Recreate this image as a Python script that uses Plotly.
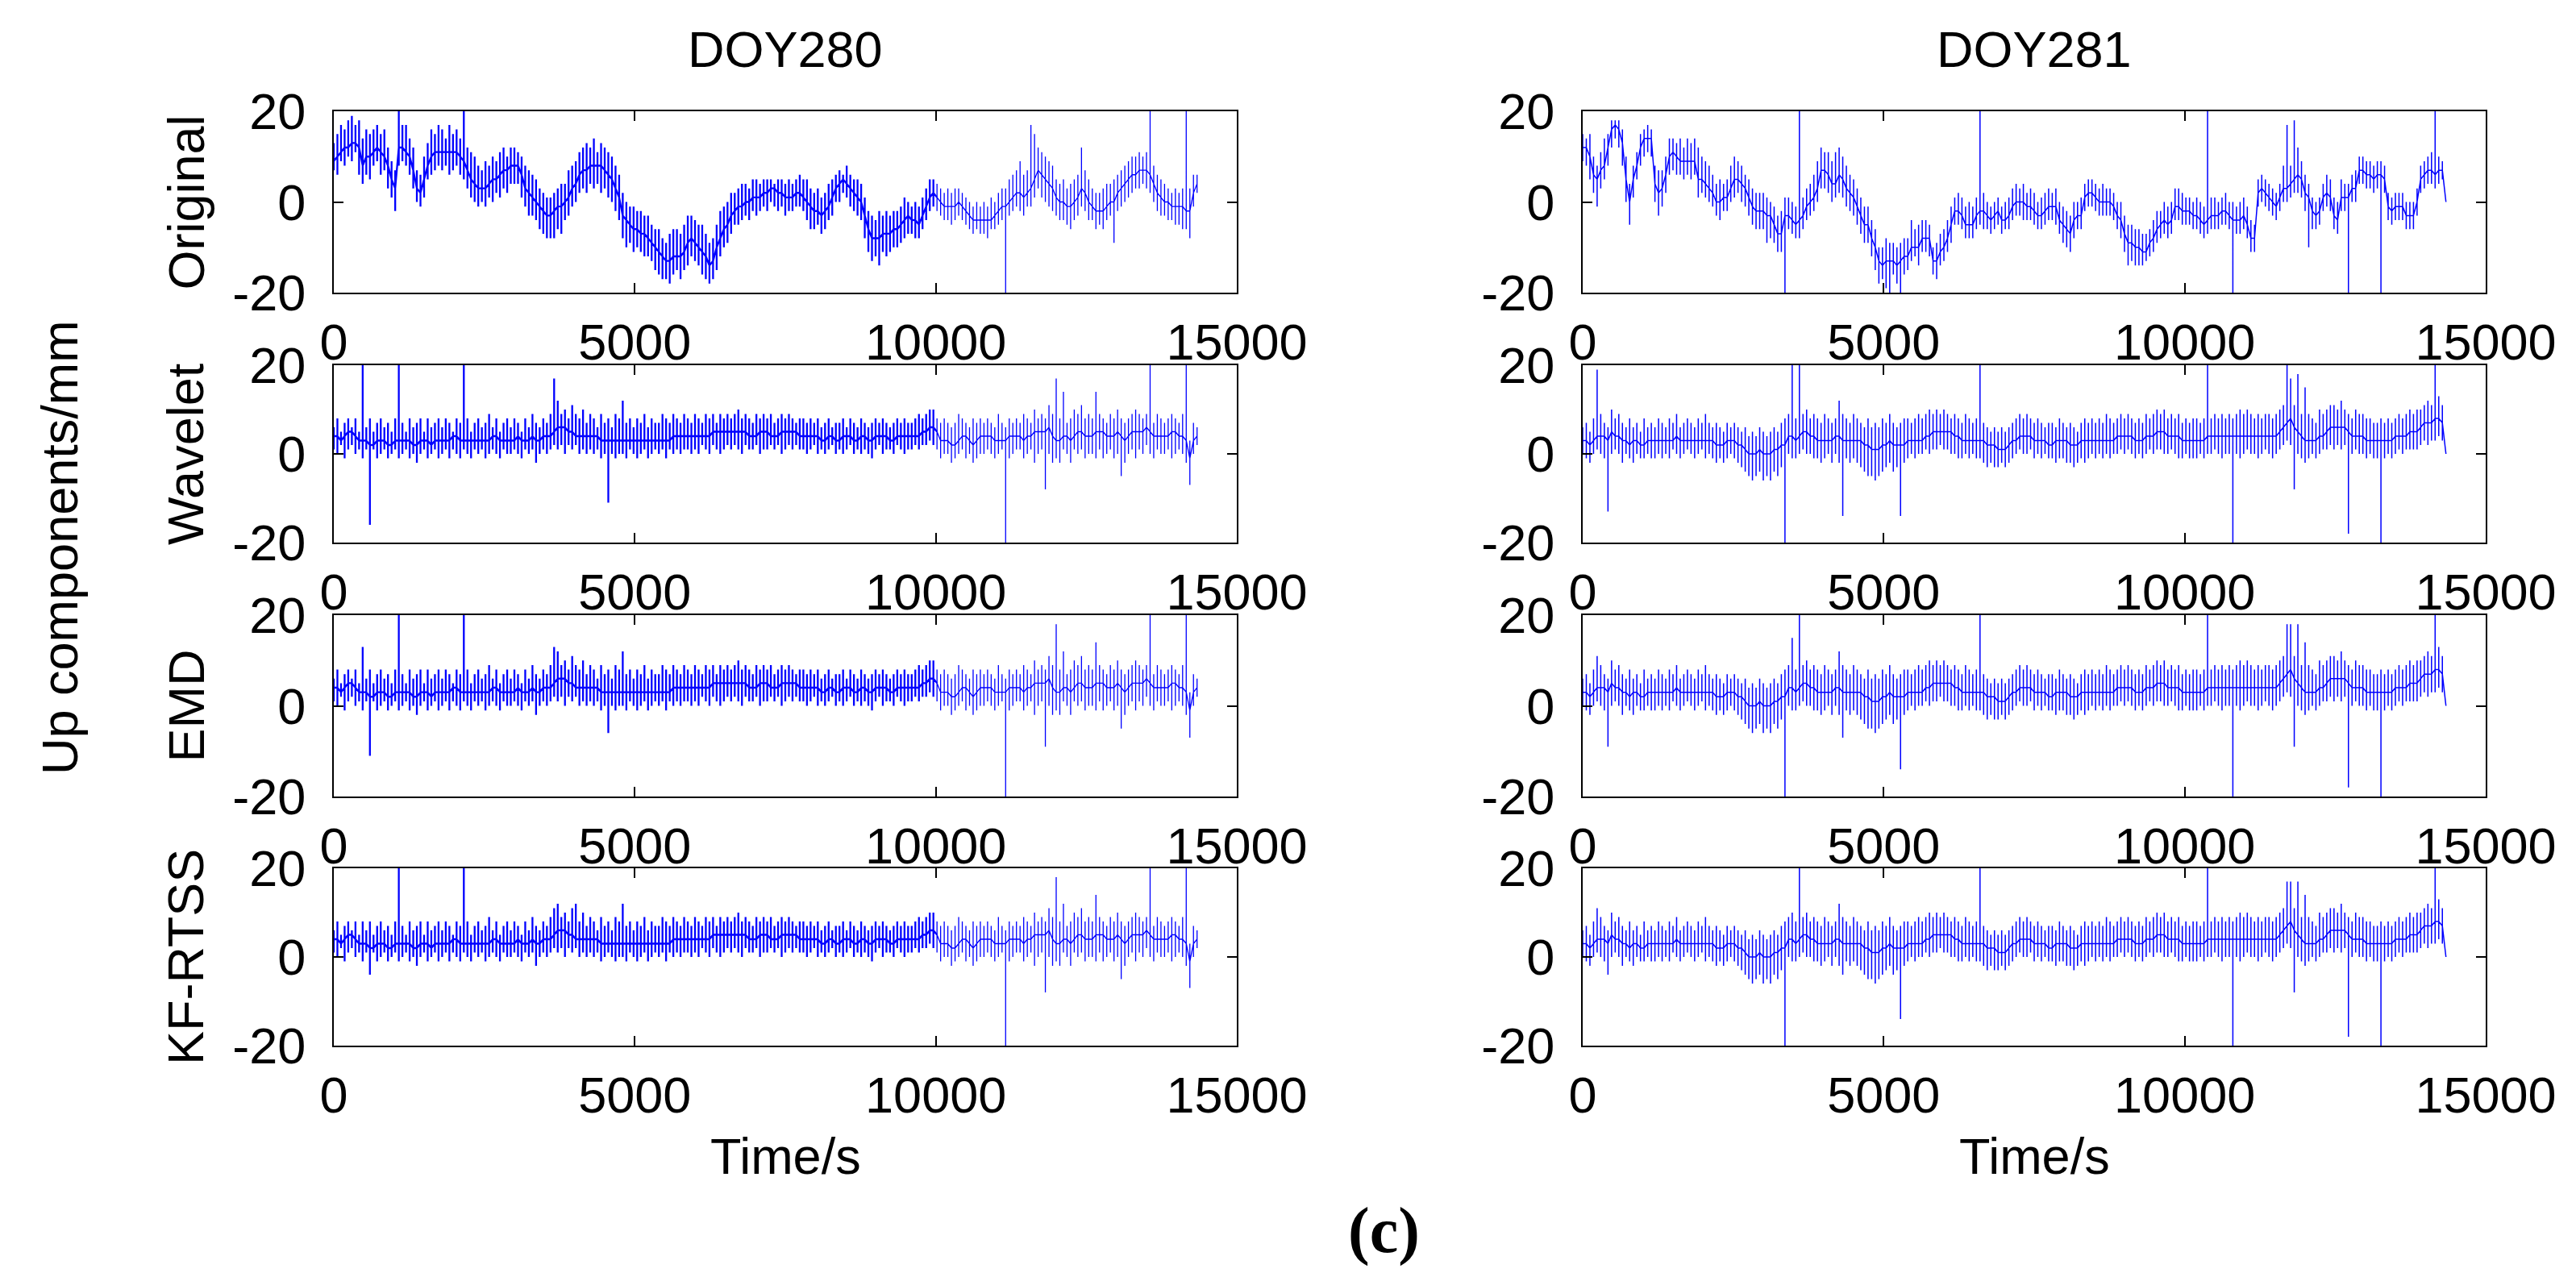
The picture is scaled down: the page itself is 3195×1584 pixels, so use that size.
import plotly.graph_objects as go

# ---------------- data (mm, one reading every 60 s) ----------------
# Each panel: a slowly varying level (base), the high and low extremes reached
# around each reading (drawn as a vertical stroke), and a few isolated outliers.
time_s = list(range(0, 14400, 60))

# ===== DOY280 Original =====
orig_280_base = [
    9, 10, 11, 12, 12, 13, 13, 12, 8, 10,
    10, 11, 12, 11, 10, 8, 5, 3, 12, 12,
    11, 10, 7, 3, 2, 5, 8, 10, 11, 11,
    11, 11, 11, 11, 11, 10, 9, 7, 5, 4,
    3, 3, 3, 4, 5, 5, 6, 7, 7, 8,
    8, 8, 6, 3, 2, 1, 0, -1, -2, -3,
    -3, -2, -1, -1, 0, 1, 3, 4, 6, 7,
    7, 8, 8, 8, 8, 7, 6, 5, 3, 1,
    -3, -4, -5, -6, -6, -7, -7, -8, -9, -10,
    -11, -12, -13, -13, -12, -12, -12, -11, -9, -8,
    -9, -10, -11, -12, -14, -13, -10, -8, -6, -5,
    -3, -2, -1, -1, 0, 0, 1, 1, 1, 2,
    2, 3, 3, 2, 2, 1, 1, 1, 2, 2,
    1, 0, -1, -2, -2, -3, -2, -1, 1, 3,
    4, 5, 4, 3, 2, 1, 0, -3, -6, -8,
    -8, -8, -7, -7, -7, -6, -6, -5, -4, -3,
    -4, -4, -5, -3, -1, 1, 2, 1, 0, -1,
    -1, -1, -1, 0, -1, -2, -3, -4, -4, -4,
    -4, -4, -4, -3, -2, -1, -1, 0, 1, 2,
    2, 1, 2, 3, 5, 7, 6, 5, 4, 3,
    1, 0, 0, -1, -1, 0, 1, 3, 2, 0,
    -1, -2, -2, -2, -1, 0, 0, 2, 3, 4,
    5, 6, 6, 7, 7, 7, 6, 4, 2, 1,
    0, 0, -1, -1, -1, -1, -2, -2, 2, 4,
]
orig_280_hi = [
    13, 15, 17, 16, 18, 19, 17, 18, 14, 16,
    15, 16, 17, 15, 16, 12, 9, 7, 16, 17,
    17, 14, 12, 7, 6, 10, 13, 16, 15, 17,
    16, 14, 17, 15, 16, 14, 15, 12, 11, 10,
    8, 7, 9, 8, 10, 9, 11, 12, 10, 12,
    12, 11, 10, 8, 7, 6, 5, 3, 2, 1,
    1, 2, 3, 4, 4, 7, 8, 9, 11, 12,
    13, 12, 14, 11, 13, 12, 11, 10, 8, 6,
    2, 0, -1, -1, -2, -2, -3, -3, -5, -6,
    -6, -8, -9, -7, -6, -6, -7, -5, -3, -3,
    -4, -5, -5, -7, -9, -8, -5, -2, -1, 0,
    2, 2, 3, 4, 4, 3, 5, 5, 4, 5,
    5, 5, 4, 5, 5, 4, 5, 4, 5, 6,
    5, 5, 3, 2, 3, 1, 2, 4, 5, 6,
    7, 6, 8, 6, 5, 5, 4, 1, -2, -3,
    -4, -2, -3, -2, -3, -2, -2, -1, 1, 0,
    -1, 0, -1, 1, 3, 5, 5, 4, 3, 2,
    3, 2, 3, 3, 2, 1, 0, -1, 0, -1,
    0, -1, 1, 0, 2, 3, 3, 5, 6, 7,
    9, 6, 7, 8, 10, 12, 11, 10, 9, 8,
    5, 4, 5, 3, 4, 5, 6, 9, 7, 5,
    3, 2, 2, 3, 4, 4, 5, 6, 7, 8,
    9, 10, 10, 11, 10, 11, 9, 8, 6, 5,
    4, 3, 2, 3, 2, 3, 1, 3, 6, 6,
]
orig_280_lo = [
    7, 6, 9, 8, 10, 9, 11, 6, 4, 6,
    5, 8, 9, 6, 7, 3, 1, -2, 8, 9,
    8, 6, 3, 0, -1, 1, 5, 6, 7, 8,
    7, 8, 6, 7, 8, 6, 5, 3, 1, 0,
    -1, 0, -1, 1, 0, 2, 1, 3, 2, 4,
    4, 4, 1, -1, -3, -3, -4, -6, -7, -8,
    -8, -8, -6, -7, -4, -3, -1, 0, 2, 3,
    2, 4, 3, 4, 2, 3, 1, 0, -2, -4,
    -8, -10, -9, -11, -10, -11, -12, -12, -13, -15,
    -16, -17, -17, -18, -16, -15, -17, -15, -14, -12,
    -13, -14, -16, -17, -18, -17, -15, -12, -10, -9,
    -7, -5, -5, -4, -3, -4, -2, -3, -2, -1,
    -2, 0, -1, -2, -1, -3, -2, -2, -1, -1,
    -2, -4, -6, -6, -5, -7, -6, -4, -3, 0,
    0, 2, 1, -1, -2, -3, -4, -8, -11, -13,
    -12, -14, -11, -12, -11, -10, -10, -9, -8, -7,
    -7, -8, -8, -6, -4, -2, -1, -2, -3, -4,
    -4, -5, -4, -3, -4, -5, -6, -7, -6, -7,
    -7, -8, -6, -6, -5, -4, -5, -3, -2, -1,
    -2, -3, -1, -1, 1, 3, 1, 0, -1, -2,
    -3, -4, -4, -5, -6, -4, -3, -1, -2, -4,
    -4, -6, -5, -6, -4, -3, -5, -2, -1, 0,
    1, 2, 3, 3, 4, 3, 2, 0, -2, -3,
    -3, -4, -4, -5, -5, -6, -6, -7, -1, 2,
]
orig_280_outliers = [(1080, 20), (2160, 20), (5580, -17), (6240, -18), (11160, -22),
                     (11580, 17), (11640, 15), (12420, 12), (12960, -9), (13560, 20),
                     (14160, 20), (14220, -8)]

# ===== DOY280 filtered series (Wavelet / EMD / KF-RTSS share the same band) =====
resid_280_base = [
    4, 4, 3, 4, 5, 5, 4, 3, 3, 3,
    2, 2, 3, 3, 3, 2, 2, 3, 3, 3,
    3, 3, 2, 2, 3, 3, 3, 2, 3, 3,
    3, 3, 3, 4, 4, 3, 3, 3, 3, 3,
    3, 3, 3, 3, 4, 4, 3, 3, 3, 3,
    3, 4, 3, 3, 3, 4, 3, 3, 4, 4,
    4, 5, 6, 6, 6, 5, 5, 4, 4, 4,
    4, 4, 4, 4, 3, 3, 3, 3, 3, 3,
    3, 3, 3, 3, 3, 3, 3, 3, 3, 3,
    3, 3, 3, 3, 4, 4, 4, 4, 4, 4,
    4, 4, 4, 4, 4, 5, 5, 5, 5, 5,
    5, 5, 5, 5, 5, 4, 4, 4, 5, 5,
    5, 4, 4, 4, 5, 5, 5, 5, 5, 4,
    4, 4, 4, 4, 4, 3, 3, 4, 4, 3,
    3, 4, 4, 4, 3, 3, 4, 4, 3, 3,
    4, 4, 4, 4, 3, 3, 4, 4, 4, 4,
    4, 4, 4, 5, 5, 6, 6, 5, 3, 3,
    3, 2, 2, 3, 4, 4, 3, 2, 3, 4,
    4, 4, 4, 3, 3, 3, 3, 4, 4, 4,
    4, 3, 4, 4, 5, 5, 5, 5, 6, 4,
    3, 3, 4, 4, 3, 4, 5, 5, 4, 4,
    4, 5, 5, 5, 4, 4, 4, 5, 4, 3,
    4, 5, 5, 5, 5, 6, 5, 4, 4, 4,
    4, 4, 5, 5, 4, 4, 3, -1, 3, 4,
]
resid_280_hi = [
    6, 8, 5, 7, 8, 6, 8, 5, 7, 6,
    8, 5, 7, 8, 6, 7, 5, 8, 6, 7,
    5, 8, 6, 7, 8, 5, 8, 6, 7, 8,
    6, 8, 7, 5, 8, 7, 6, 8, 5, 7,
    8, 6, 7, 9, 6, 8, 5, 7, 8, 6,
    8, 7, 5, 8, 6, 9, 7, 6, 8, 7,
    9, 11, 12, 9, 10, 8, 11, 9, 8, 10,
    7, 9, 8, 6, 9, 7, 8, 6, 9, 8,
    12, 7, 8, 6, 8, 7, 9, 6, 8, 7,
    7, 9, 8, 7, 9, 8, 7, 9, 8, 7,
    9, 8, 7, 9, 8, 9, 7, 9, 8, 9,
    8, 9, 10, 8, 9, 8, 7, 9, 8, 9,
    8, 9, 7, 8, 9, 8, 9, 8, 7, 8,
    8, 7, 8, 7, 8, 6, 7, 8, 6, 7,
    7, 8, 6, 8, 7, 6, 8, 7, 6, 7,
    8, 7, 8, 7, 6, 7, 8, 7, 8, 7,
    7, 8, 9, 8, 9, 10, 10, 8, 7, 8,
    7, 6, 7, 9, 8, 7, 6, 8, 7, 8,
    7, 8, 7, 6, 9, 7, 6, 8, 7, 8,
    7, 9, 8, 7, 10, 8, 9, 8, 11, 9,
    10, 8, 9, 7, 8, 10, 9, 11, 8, 9,
    8, 10, 9, 8, 7, 9, 8, 10, 8, 7,
    8, 9, 10, 9, 8, 9, 8, 7, 9, 8,
    7, 8, 9, 8, 7, 9, 6, 3, 7, 6,
]
resid_280_lo = [
    1, 0, 2, -1, 1, 2, 0, 1, -1, 1,
    0, 1, -1, 0, 1, -1, 0, 1, -1, 0,
    1, -1, 0, -2, 0, 1, -1, 0, 1, -1,
    0, 1, -1, 1, 0, -1, 1, 0, -1, 1,
    0, 1, -1, 0, 1, 0, -1, 1, 0, 0,
    1, 0, -1, 1, 0, 1, -2, 0, 1, 0,
    1, 2, 1, 2, 0, 2, 1, 2, 0, 1,
    0, 1, 0, 1, -1, 0, 1, 0, -1, 0,
    0, -1, 1, 0, -1, 0, 1, -1, 0, 1,
    0, 1, -1, 1, 0, 1, 0, 1, 1, 0,
    1, 0, 2, 1, 0, 2, 1, 0, 1, 2,
    1, 2, 1, 0, 2, 1, 1, 2, 0, 1,
    1, 2, 1, 2, 0, 1, 2, 1, 2, 1,
    1, 0, 1, 2, 0, 1, 0, 1, 2, 0,
    1, 0, 1, 2, 0, 1, 0, 1, 0, -1,
    1, 2, 0, 1, 1, 0, 2, 1, 0, 1,
    1, 2, 1, 2, 2, 3, 2, 1, -1, 0,
    0, -2, -1, 0, 1, -1, 0, -2, -1, 0,
    0, 1, 0, -1, 0, 1, 0, -1, 0, 1,
    1, -1, 0, 1, -2, 0, 1, -1, 0, -2,
    -1, -2, 1, 0, -2, 1, 0, 1, -1, 0,
    0, -1, 1, -1, 0, 1, -1, 0, 1, -2,
    0, 1, -1, 1, 0, 2, 0, -1, 1, 0,
    0, 1, -1, 0, 1, 0, -2, -4, 0, 2,
]
wavelet_280_outliers = [(480, 20), (600, -16), (1080, 20), (2160, 20), (3660, 17), (4560, -11),
                        (4800, 12), (11160, -21), (11820, -8), (12000, 17), (12120, 14),
                        (12660, 14), (13080, -5), (13560, 20), (14160, 20), (14220, -7)]
emd_280_outliers = [(480, 13), (600, -11), (1080, 20), (2160, 20), (3660, 13), (4560, -6),
                    (4800, 11), (11160, -21), (11820, -9), (12000, 18), (12120, 12),
                    (12660, 14), (13080, -5), (13560, 20), (14160, 20), (14220, -7)]
kfrtss_280_outliers = [(480, 8), (600, -4), (1080, 20), (2160, 20), (4020, 12), (4800, 12),
                       (11160, -21), (11820, -8), (12000, 18), (12120, 12), (12660, 14),
                       (13080, -5), (13560, 20), (14160, 20), (14220, -7)]

# ===== DOY281 Original =====
orig_281_base = [
    12, 12, 10, 6, 5, 7, 8, 12, 16, 17,
    16, 13, 5, 0, 5, 8, 12, 14, 14, 14,
    4, 2, 3, 6, 10, 11, 10, 9, 9, 9,
    9, 9, 5, 5, 4, 3, 2, 0, 0, 1,
    1, 3, 5, 5, 4, 3, 1, -1, -2, -2,
    -2, -3, -3, -5, -7, -7, -3, -3, -4, -5,
    -4, -3, -1, 0, 1, 3, 7, 7, 6, 4,
    4, 6, 5, 3, 2, 1, -1, -3, -5, -5,
    -8, -10, -13, -14, -13, -13, -13, -14, -13, -12,
    -12, -10, -10, -10, -8, -8, -8, -13, -13, -11,
    -10, -8, -5, -2, -2, -3, -5, -5, -5, -3,
    -2, -2, -3, -4, -3, -2, -4, -4, -3, -1,
    0, 0, 0, -1, -1, -2, -3, -3, -2, -1,
    -1, -1, -4, -5, -6, -7, -4, -3, -3, 1,
    2, 2, 1, 0, 0, 0, 0, -1, -3, -4,
    -7, -9, -9, -10, -10, -11, -11, -9, -8, -6,
    -5, -4, -5, -4, -1, -1, -2, -2, -2, -3,
    -3, -4, -5, -4, -3, -3, -3, -2, -2, -3,
    -4, -4, -4, -3, -5, -8, -8, 2, 3, 2,
    1, 0, -1, 1, 3, 3, 4, 5, 6, 5,
    2, 1, -2, -3, -2, 1, 2, 1, -3, -4,
    1, 1, 1, 3, 3, 7, 7, 6, 6, 5,
    6, 6, 5, -1, -2, -1, -1, -1, -3, -3,
    -3, 0, 5, 6, 7, 7, 6, 7, 7, 0,
]
orig_281_hi = [
    15, 14, 15, 10, 8, 11, 14, 15, 18, 18,
    18, 16, 10, 4, 8, 11, 15, 16, 17, 16,
    8, 7, 7, 10, 14, 14, 13, 14, 12, 14,
    13, 14, 12, 10, 9, 8, 6, 4, 5, 4,
    5, 8, 10, 9, 8, 6, 5, 3, 2, 2,
    2, 1, 0, -1, -3, -2, 1, 1, 0, -1,
    0, 1, 3, 4, 6, 9, 12, 11, 11, 9,
    11, 12, 10, 8, 6, 5, 3, 1, -1, -1,
    -4, -6, -10, -10, -8, -9, -9, -10, -9, -8,
    -8, -4, -6, -5, -4, -4, -5, -10, -9, -7,
    -6, -4, -1, 1, 2, 1, -1, 0, -1, 1,
    1, 2, 0, -1, 0, 1, -1, 0, 1, 3,
    4, 3, 4, 2, 3, 2, 0, 1, 2, 3,
    2, 3, 0, -1, -2, -3, 0, 0, 1, 4,
    5, 5, 4, 3, 4, 3, 3, 2, 0, 0,
    -3, -5, -5, -6, -6, -7, -7, -6, -4, -2,
    -2, 0, -1, 0, 3, 3, 2, 1, 1, 0,
    1, 0, -1, 0, 1, 1, 0, 1, 2, 0,
    0, -1, 0, 1, -1, -4, -5, 5, 6, 5,
    4, 3, 2, 4, 8, 6, 8, 9, 12, 9,
    6, 4, 1, 0, 1, 4, 6, 5, 1, 0,
    5, 4, 4, 6, 7, 10, 10, 9, 9, 8,
    9, 9, 8, 2, 1, 2, 2, 2, 0, 0,
    0, 3, 8, 9, 10, 11, 10, 10, 9, 0,
]
orig_281_lo = [
    9, 8, 5, 2, -1, 3, 5, 8, 12, 14,
    12, 8, 0, -5, 1, 5, 8, 10, 11, 10,
    0, -3, -1, 2, 6, 7, 6, 6, 5, 6,
    5, 6, 1, 2, 1, 0, -1, -3, -4, -2,
    -2, 0, 1, 2, 0, -1, -3, -5, -6, -6,
    -6, -9, -8, -9, -11, -11, -7, -6, -7, -8,
    -8, -6, -4, -3, -2, 0, 3, 3, 2, 0,
    1, 2, 1, -1, -2, -3, -5, -7, -9, -9,
    -12, -15, -18, -17, -19, -20, -16, -18, -17, -16,
    -15, -13, -12, -14, -11, -11, -12, -16, -17, -14,
    -13, -11, -9, -5, -5, -6, -8, -8, -8, -6,
    -5, -6, -6, -7, -6, -5, -7, -6, -6, -4,
    -3, -3, -4, -4, -4, -5, -6, -6, -5, -4,
    -4, -5, -7, -9, -10, -11, -8, -6, -6, -2,
    -1, -1, -2, -3, -3, -3, -3, -4, -6, -8,
    -11, -14, -13, -14, -14, -14, -13, -12, -11, -9,
    -8, -7, -8, -7, -4, -4, -5, -5, -5, -6,
    -6, -7, -8, -7, -6, -6, -6, -5, -5, -6,
    -7, -7, -7, -6, -8, -11, -11, -1, 0, -1,
    -2, -3, -4, -2, 0, 0, 1, 2, 2, 1,
    -2, -4, -6, -6, -5, -2, -1, -2, -6, -7,
    -2, -2, -2, 0, 0, 4, 4, 3, 3, 2,
    3, 3, 2, -4, -5, -4, -4, -4, -6, -6,
    -6, -3, 2, 3, 4, 4, 3, 4, 5, 0,
]
orig_281_outliers = [(3360, -21), (3600, 20), (5280, -21), (6600, 20), (10380, 20), (10800, -21),
                     (11700, 17), (11820, 18), (12060, -10), (12720, -21), (13260, -21),
                     (14160, 20)]

# ===== DOY281 filtered series (Wavelet / EMD / KF-RTSS share the same band) =====
resid_281_base = [
    3, 3, 2, 3, 4, 4, 4, 3, 5, 4,
    4, 3, 3, 2, 3, 3, 2, 2, 3, 3,
    3, 3, 3, 3, 3, 3, 4, 3, 3, 3,
    3, 3, 3, 3, 3, 3, 3, 2, 2, 2,
    3, 3, 3, 2, 2, 1, 0, 0, 0, 1,
    0, 0, 0, 1, 1, 2, 2, 4, 4, 3,
    4, 5, 5, 4, 4, 3, 3, 3, 3, 3,
    4, 4, 3, 3, 3, 3, 3, 3, 2, 2,
    1, 1, 1, 2, 2, 3, 2, 2, 2, 2,
    3, 3, 3, 3, 3, 4, 4, 5, 5, 5,
    5, 5, 5, 4, 4, 3, 3, 3, 3, 3,
    3, 3, 2, 2, 2, 1, 1, 1, 2, 3,
    3, 4, 4, 4, 4, 3, 3, 3, 3, 2,
    2, 3, 3, 3, 3, 2, 2, 2, 3, 3,
    3, 3, 3, 3, 3, 3, 3, 3, 4, 4,
    4, 4, 4, 3, 3, 3, 4, 4, 4, 5,
    5, 5, 4, 4, 4, 4, 3, 3, 3, 3,
    3, 3, 3, 4, 4, 4, 4, 4, 4, 4,
    4, 4, 4, 4, 4, 4, 4, 4, 4, 4,
    4, 4, 4, 5, 6, 7, 8, 6, 5, 4,
    3, 3, 3, 3, 4, 4, 5, 6, 6, 6,
    6, 6, 5, 4, 4, 4, 4, 3, 3, 3,
    3, 3, 3, 3, 3, 4, 4, 4, 4, 5,
    5, 5, 6, 7, 7, 7, 8, 8, 7, 0,
]
resid_281_hi = [
    6, 7, 5, 8, 6, 9, 7, 6, 10, 8,
    9, 7, 6, 8, 6, 7, 5, 8, 6, 7,
    6, 8, 7, 6, 8, 7, 9, 6, 7, 8,
    7, 6, 8, 7, 9, 7, 6, 7, 6, 5,
    7, 6, 7, 6, 5, 6, 4, 5, 4, 6,
    5, 4, 5, 6, 5, 7, 8, 9, 10, 8,
    9, 9, 10, 8, 9, 8, 7, 9, 8, 7,
    8, 12, 9, 8, 7, 9, 8, 7, 6, 8,
    6, 7, 6, 8, 7, 9, 7, 6, 7, 8,
    8, 7, 8, 9, 8, 9, 10, 9, 10, 9,
    10, 9, 8, 9, 8, 7, 9, 8, 7, 8,
    8, 7, 6, 5, 6, 5, 6, 5, 6, 7,
    8, 9, 8, 9, 8, 7, 8, 7, 6, 7,
    7, 6, 8, 7, 6, 7, 6, 5, 7, 8,
    7, 8, 7, 8, 7, 9, 8, 7, 8, 9,
    8, 9, 8, 7, 8, 7, 9, 8, 9, 10,
    9, 10, 8, 9, 8, 9, 7, 8, 7, 8,
    8, 7, 8, 9, 8, 9, 8, 9, 8, 9,
    8, 9, 10, 9, 10, 9, 8, 9, 8, 9,
    9, 8, 9, 10, 11, 12, 13, 11, 10, 9,
    8, 9, 8, 7, 10, 9, 10, 11, 11, 10,
    12, 10, 9, 8, 10, 9, 9, 8, 8, 7,
    7, 8, 7, 8, 7, 8, 9, 8, 9, 10,
    9, 10, 10, 11, 12, 11, 12, 13, 11, 0,
]
resid_281_lo = [
    0, -1, -2, 0, 1, 0, -1, 1, 0, 1,
    0, -2, 0, -1, -2, 0, -1, -1, 0, -1,
    -1, 0, -1, 0, -1, 1, 0, -1, 0, 1,
    0, -1, 0, 1, -1, 0, -1, -2, -1, -2,
    -1, 0, -1, -2, -3, -4, -5, -6, -5, -4,
    -6, -5, -6, -4, -5, -3, -2, 0, -1, -1,
    0, 1, 0, 0, -1, -1, -2, -1, 0, -2,
    0, -2, -3, -1, -2, -1, -2, -3, -4, -5,
    -5, -6, -5, -4, -3, -2, -4, -3, -5, -2,
    -1, 0, -1, 0, 0, 1, 0, 1, 1, 2,
    1, 1, 0, 0, -1, -1, 0, -1, 0, -1,
    -1, -2, -3, -2, -3, -3, -2, -3, -2, -1,
    0, 1, 0, 0, 1, -1, 0, -1, 0, -1,
    -1, -2, -1, -1, -2, -2, -3, -2, -1, -2,
    -1, 0, -1, 0, -1, 0, -1, 0, 0, 1,
    0, 1, 0, -1, 0, -1, 0, 1, 0, 1,
    1, 0, 0, 1, 0, -1, -1, 0, -1, -1,
    -1, 0, -1, 0, 0, 1, 0, -1, 0, 0,
    0, 0, -1, 0, 1, 0, 0, -1, 0, 1,
    0, -1, 0, 1, 2, 3, 2, 1, 0, -1,
    -2, -1, 0, -1, 0, 1, 1, 2, 1, 2,
    1, 2, 0, 0, 1, 0, 0, -1, 0, -1,
    -1, 0, -1, 0, -1, 0, 1, 0, 1, 1,
    1, 1, 2, 3, 2, 3, 3, 4, 3, 0,
]
wavelet_281_outliers = [(240, 19), (420, -13), (3360, -21), (3480, 20), (3600, 20), (4260, 12),
                        (4320, -14), (5280, -14), (6600, 20), (10380, 20), (10800, -21),
                        (11700, 20), (11760, 17), (11820, -8), (11880, 18), (12000, 15),
                        (12720, -18), (13260, -21), (14160, 20), (14220, 13)]
emd_281_outliers = [(240, 11), (420, -9), (3360, -21), (3480, 15), (3600, 20), (4260, 11),
                    (4320, -7), (5280, -14), (6600, 20), (10380, 20), (10800, -21),
                    (11700, 18), (11760, 18), (11820, -9), (11880, 18), (12000, 14),
                    (12720, -18), (13260, -21), (14160, 20), (14220, 12)]
kfrtss_281_outliers = [(240, 11), (420, -4), (3360, -21), (3480, 9), (3600, 20), (4260, 12),
                       (4320, -4), (5280, -14), (6600, 20), (10380, 20), (10800, -21),
                       (11700, 17), (11760, 17), (11820, -8), (11880, 17), (12000, 14),
                       (12720, -18), (13260, -21), (14160, 20), (14220, 13)]

row_labels = ["Original", "Wavelet", "EMD", "KF-RTSS"]
col_titles = ["DOY280", "DOY281"]
x_ticks = [0, 5000, 10000, 15000]
x_ticktext = ["0", "5000", "10000", "15000"]
y_ticks = [-20, 0, 20]
y_ticktext = ["-20", "0", "20"]

panels = [
    [(orig_280_base, orig_280_hi, orig_280_lo, orig_280_outliers),
     (orig_281_base, orig_281_hi, orig_281_lo, orig_281_outliers)],
    [(resid_280_base, resid_280_hi, resid_280_lo, wavelet_280_outliers),
     (resid_281_base, resid_281_hi, resid_281_lo, wavelet_281_outliers)],
    [(resid_280_base, resid_280_hi, resid_280_lo, emd_280_outliers),
     (resid_281_base, resid_281_hi, resid_281_lo, emd_281_outliers)],
    [(resid_280_base, resid_280_hi, resid_280_lo, kfrtss_280_outliers),
     (resid_281_base, resid_281_hi, resid_281_lo, kfrtss_281_outliers)],
]


def panel_path(base, hi, lo, outliers):
    hi, lo = list(hi), list(lo)
    for t, v in outliers:
        i = time_s.index(t)
        if v >= base[i]:
            hi[i] = max(hi[i], v)
        else:
            lo[i] = min(lo[i], v)
    xs, ys = [], []
    for ti, b, h, l in zip(time_s, base, hi, lo):
        xs += [ti, ti, ti, ti]
        ys += [b, h, l, b]
    return xs, ys


# ---------------- layout geometry (pixels in a 3195 x 1584 page) ----------------
W, H = 3195, 1584
col_px = [(406, 1526), (1955, 3075)]
row_px = [(130, 355), (445, 665), (755, 980), (1069, 1289)]

FONT = "Liberation Sans, Arial, Helvetica, sans-serif"
tick_font = dict(family=FONT, size=63, color="black")

fig = go.Figure()
layout = dict(
    width=W, height=H,
    margin=dict(l=0, r=0, t=0, b=0, pad=0, autoexpand=False),
    paper_bgcolor="white", plot_bgcolor="white",
    showlegend=False,
)

split_t = 10020
for r in range(4):
    for c in range(2):
        n = r * 2 + c + 1
        xa = "x" if n == 1 else f"x{n}"
        ya = "y" if n == 1 else f"y{n}"
        xs, ys = panel_path(*panels[r][c])
        if c == 0:
            k = 4 * time_s.index(split_t)
            fig.add_trace(go.Scatter(x=xs[:k + 1], y=ys[:k + 1], mode="lines",
                                     line=dict(color="#0000FF", width=2.3),
                                     xaxis=xa, yaxis=ya, hoverinfo="skip"))
            fig.add_trace(go.Scatter(x=xs[k:], y=ys[k:], mode="lines",
                                     line=dict(color="#0000FF", width=1.3),
                                     xaxis=xa, yaxis=ya, hoverinfo="skip"))
        else:
            fig.add_trace(go.Scatter(x=xs, y=ys, mode="lines",
                                     line=dict(color="#0000FF", width=1.5),
                                     xaxis=xa, yaxis=ya, hoverinfo="skip"))
        x0, x1 = col_px[c]
        y0, y1 = row_px[r]
        common = dict(showline=True, linecolor="black", linewidth=2, mirror="ticks",
                      ticks="inside", ticklen=12, tickwidth=2, tickcolor="black",
                      showgrid=False, zeroline=False, tickfont=tick_font, fixedrange=True,
                      automargin=False)
        layout["xaxis" if n == 1 else f"xaxis{n}"] = dict(
            domain=[x0 / W, x1 / W], range=[0, 15000], anchor=ya,
            tickmode="array", tickvals=x_ticks, ticktext=x_ticktext,
            ticklabelstandoff=5, **common)
        layout["yaxis" if n == 1 else f"yaxis{n}"] = dict(
            domain=[1 - y1 / H, 1 - y0 / H], range=[-20, 20], anchor=xa,
            tickmode="array", tickvals=y_ticks, ticktext=y_ticktext,
            ticklabelstandoff=20, **common)

annotations = []
for c in range(2):
    xc = (col_px[c][0] + col_px[c][1]) / 2 / W
    annotations.append(dict(text=col_titles[c], x=xc, y=1 - 53 / H, xref="paper", yref="paper",
                            showarrow=False, xanchor="center", yanchor="middle",
                            font=dict(family=FONT, size=63, color="black")))
    annotations.append(dict(text="Time/s", x=xc, y=1 - 1426 / H, xref="paper", yref="paper",
                            showarrow=False, xanchor="center", yanchor="middle",
                            font=dict(family=FONT, size=63, color="black")))
for r in range(4):
    yc = 1 - (row_px[r][0] + row_px[r][1]) / 2 / H
    annotations.append(dict(text=row_labels[r], x=222 / W, y=yc, xref="paper", yref="paper",
                            showarrow=False, xanchor="center", yanchor="middle", textangle=-90,
                            font=dict(family=FONT, size=63, color="black")))
annotations.append(dict(text="Up components/mm", x=66 / W, y=1 - 671 / H, xref="paper", yref="paper",
                        showarrow=False, xanchor="center", yanchor="middle", textangle=-90,
                        font=dict(family=FONT, size=63, color="black")))
annotations.append(dict(text="<b>(c)</b>", x=1708 / W, y=1 - 1518 / H, xref="paper", yref="paper",
                        showarrow=False, xanchor="center", yanchor="middle",
                        font=dict(family="Liberation Serif, Times New Roman, serif", size=80, color="black")))
layout["annotations"] = annotations

fig.update_layout(**layout)
fig.write_html("out.html", config={"displayModeBar": False})
